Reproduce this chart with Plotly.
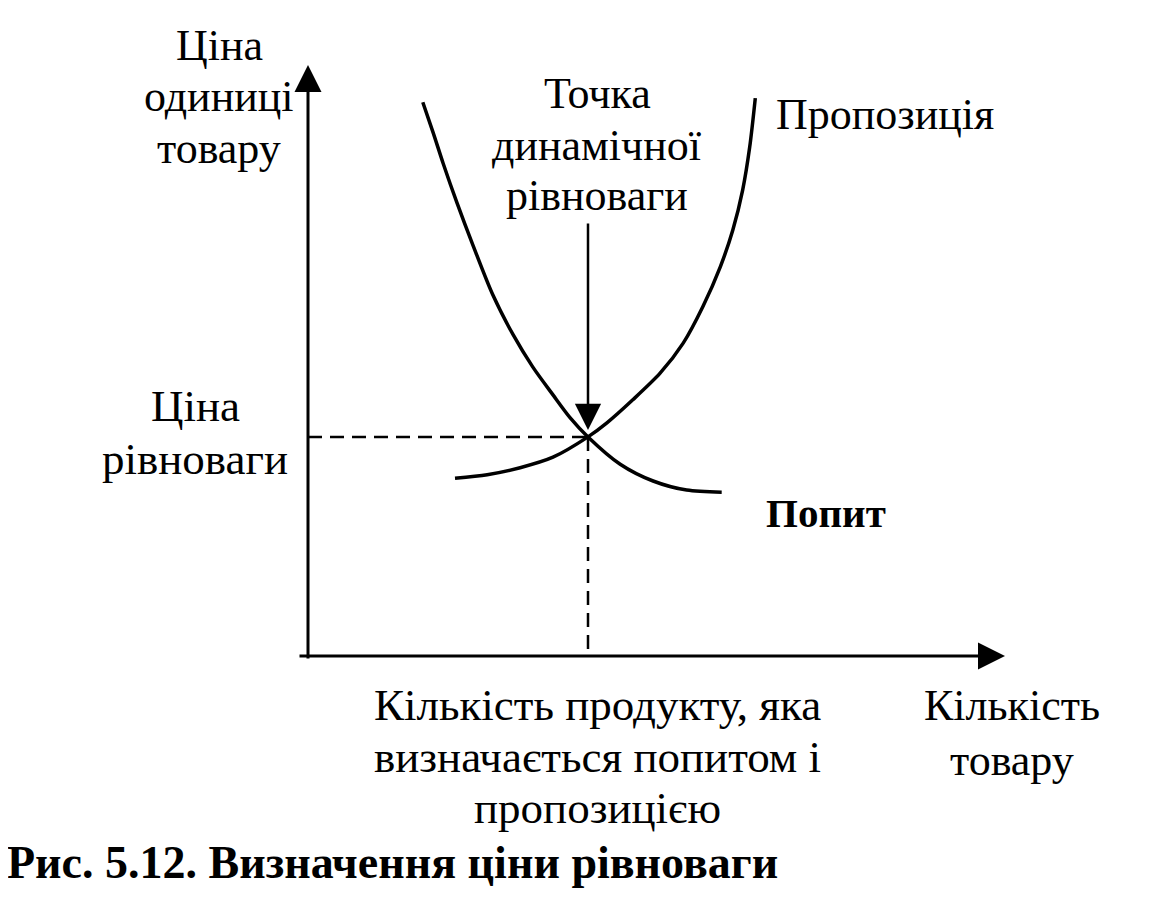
import plotly.graph_objects as go

# ---- data (quantity, price in arbitrary units) ----
demand_q = [1.64, 1.79, 1.93, 2.13, 2.36, 2.64, 2.93, 3.21, 3.50, 3.74, 4.00, 4.46, 4.93, 5.41, 5.91]
demand_p = [7.91, 7.47, 7.04, 6.47, 5.86, 5.16, 4.59, 4.13, 3.73, 3.41, 3.13, 2.74, 2.50, 2.37, 2.34]
supply_q = [2.10, 2.56, 3.03, 3.50, 4.00, 4.27, 4.64, 5.03, 5.36, 5.64, 5.89, 6.07, 6.21, 6.31, 6.39]
supply_p = [2.54, 2.59, 2.69, 2.84, 3.13, 3.33, 3.66, 4.04, 4.47, 4.99, 5.56, 6.09, 6.66, 7.27, 7.97]
eq_q, eq_p = 4.00, 3.13

OFF = 8             # browser body margin
W, H = 1156 - 2 * OFF, 922 - 2 * OFF
S = 70.0            # px per unit
X0, Y0 = 308, 656   # origin in reference px

def pxx(px):
    return (px - X0) / S

def pxy(py):
    return (Y0 - py) / S

FONT = "Liberation Serif"
fig = go.Figure()

curve_line = dict(color="black", width=3.5, shape="spline", smoothing=0.8)
fig.add_trace(go.Scatter(x=demand_q, y=demand_p, mode="lines", line=curve_line,
                         hoverinfo="skip", showlegend=False))
fig.add_trace(go.Scatter(x=supply_q, y=supply_p, mode="lines", line=curve_line,
                         hoverinfo="skip", showlegend=False))
dash_line = dict(color="black", width=2.5, dash="14px,8px")
fig.add_trace(go.Scatter(x=[0, eq_q], y=[eq_p, eq_p], mode="lines", line=dash_line,
                         hoverinfo="skip", showlegend=False))
fig.add_trace(go.Scatter(x=[eq_q, eq_q], y=[eq_p, 0], mode="lines", line=dash_line,
                         hoverinfo="skip", showlegend=False))

ann = []
ann.append(dict(x=0, y=pxy(65), ax=0, ay=pxy(660), xref="x", yref="y", axref="x", ayref="y",
                showarrow=True, arrowhead=2, arrowwidth=3, arrowsize=1.8, arrowcolor="black", text=""))
ann.append(dict(x=pxx(1005), y=0, ax=pxx(298), ay=0, xref="x", yref="y", axref="x", ayref="y",
                showarrow=True, arrowhead=2, arrowwidth=3, arrowsize=1.8, arrowcolor="black", text=""))
ann.append(dict(x=eq_q, y=eq_p + 0.1, ax=eq_q, ay=pxy(222), xref="x", yref="y", axref="x", ayref="y",
                showarrow=True, arrowhead=2, arrowwidth=2.5, arrowsize=2.1, arrowcolor="black", text=""))

def txt(text, cx, cy, size=44, bold=False, xanchor="center"):
    if bold:
        text = "<b>" + text + "</b>"
    ann.append(dict(text=text, x=(cx - OFF) / W, y=1 - (cy - OFF) / H, xref="paper", yref="paper",
                    xanchor=xanchor, yanchor="middle", showarrow=False, align="center",
                    font=dict(family=FONT, size=size, color="black")))

txt("Ціна", 219, 46)
txt("одиниці", 219, 97)
txt("товару", 219, 148)
txt("Точка", 597, 93)
txt("динамічної", 597, 145)
txt("рівноваги", 597, 195)
txt("Пропозиція", 885, 114)
txt("Ціна", 195, 406, size=45)
txt("рівноваги", 195, 459, size=45)
txt("Попит", 826, 513, size=41, bold=True)
txt("Кількість продукту, яка", 597, 705, size=45)
txt("визначається попитом і", 597, 757, size=45)
txt("пропозицією", 597, 808, size=45)
txt("Кількість", 1012, 705)
txt("товару", 1012, 760)
txt("Рис. 5.12. Визначення ціни рівноваги", 5, 862, size=46, bold=True, xanchor="left")

fig.update_layout(
    width=W, height=H, margin=dict(l=0, r=0, t=0, b=0),
    paper_bgcolor="white", plot_bgcolor="white",
    xaxis=dict(range=[pxx(OFF), pxx(OFF + W)], visible=False, fixedrange=True),
    yaxis=dict(range=[pxy(OFF + H), pxy(OFF)], visible=False, fixedrange=True),
    annotations=ann, showlegend=False,
)
fig.write_html("out.html")
